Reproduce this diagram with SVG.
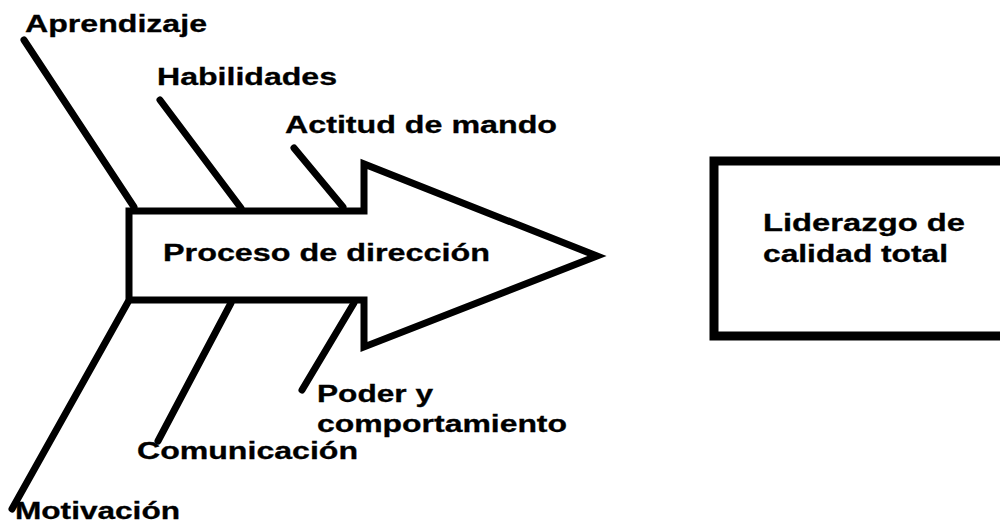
<svg xmlns="http://www.w3.org/2000/svg" width="1000" height="525" viewBox="0 0 1000 525">
  <style>
    .lbl { font-family: "Liberation Sans", Arial, sans-serif; font-weight: bold; font-size: 23px; fill: #000; stroke: #000; stroke-width: 0.3; }
    .rib { stroke: #000; stroke-width: 7; stroke-linecap: round; fill: none; }
    .shape { stroke: #000; fill: #fff; }
  </style>
  <rect width="1000" height="525" fill="#fff"/>
  <g id="connectors">
    <line class="rib" x1="24" y1="40" x2="134" y2="207"/>
    <line class="rib" x1="160" y1="100" x2="241" y2="208"/>
    <line class="rib" x1="294" y1="148" x2="343" y2="207"/>
    <line class="rib" x1="12" y1="509" x2="128" y2="302"/>
    <line class="rib" x1="158" y1="441" x2="231" y2="303"/>
    <line class="rib" x1="302" y1="390" x2="354" y2="303"/>
  </g>
  <g id="proceso">
    <polygon class="shape" stroke-width="7" stroke-linejoin="miter" points="129,211 364,211 364,164 597,256 364,347 364,300 129,300"/>
    <text class="lbl" x="163" y="261" textLength="327" lengthAdjust="spacingAndGlyphs">Proceso de dirección</text>
  </g>
  <g id="liderazgo">
    <rect class="shape" x="714" y="161" width="310" height="175" stroke-width="9"/>
    <text class="lbl" x="763" y="231" textLength="202" lengthAdjust="spacingAndGlyphs">Liderazgo de</text>
    <text class="lbl" x="763" y="262" textLength="185" lengthAdjust="spacingAndGlyphs">calidad total</text>
  </g>
  <g id="aprendizaje">
    <text class="lbl" x="25" y="32" textLength="182" lengthAdjust="spacingAndGlyphs">Aprendizaje</text>
  </g>
  <g id="habilidades">
    <text class="lbl" x="157" y="85" textLength="180" lengthAdjust="spacingAndGlyphs">Habilidades</text>
  </g>
  <g id="actitud">
    <text class="lbl" x="285" y="133" textLength="272" lengthAdjust="spacingAndGlyphs">Actitud de mando</text>
  </g>
  <g id="poder">
    <text class="lbl" x="317" y="402" textLength="116" lengthAdjust="spacingAndGlyphs">Poder y</text>
    <text class="lbl" x="317" y="432" textLength="250" lengthAdjust="spacingAndGlyphs">comportamiento</text>
  </g>
  <g id="comunicacion">
    <text class="lbl" x="137" y="459" textLength="221" lengthAdjust="spacingAndGlyphs">Comunicación</text>
  </g>
  <g id="motivacion">
    <text class="lbl" x="15" y="519" textLength="165" lengthAdjust="spacingAndGlyphs">Motivación</text>
  </g>
</svg>
